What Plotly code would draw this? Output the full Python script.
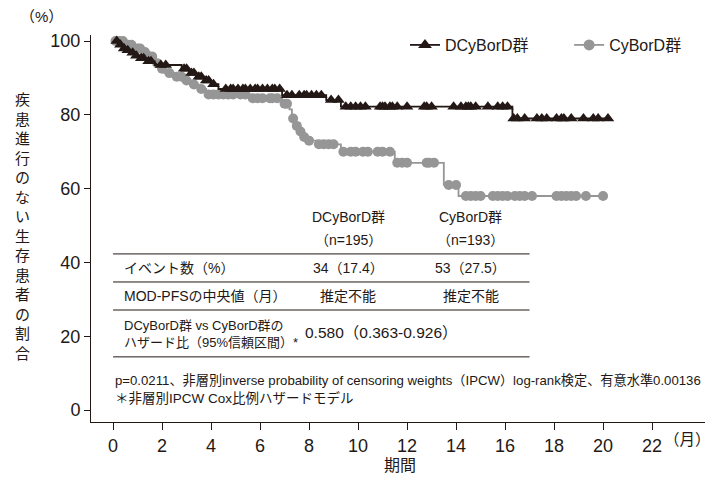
import numpy as np
import plotly.graph_objects as go

FONT = "'Liberation Sans', 'Noto Sans CJK JP', sans-serif"
INK = "#231815"
GRAY = "#969696"

# axis ticks
month_ticks = list(range(0, 23, 2))
pct_ticks = [0, 20, 40, 60, 80, 100]

# DCyBorD arm: step times (months) and % progression-free after each step
dcy_t = [0, 0.2, 0.35, 0.5, 0.7, 0.9, 1.1, 1.4, 1.7, 2.8, 3.1, 3.4, 3.7,
         4.0, 4.3, 6.9, 8.7, 9.3, 16.3]
dcy_s = [100, 99, 98, 97.5, 96.8, 96, 95.3, 94.5, 93.5, 92.5, 91.3, 90.3,
         89.3, 88.3, 87, 85.3, 84, 82.2, 79]
dcy_last = 20.2
dcy_cens = [0.15, 0.3, 0.45, 0.6, 0.8, 0.95, 1.15, 1.25, 1.45, 1.55, 1.95,
            2.15, 2.9, 3.0, 3.2, 3.3, 3.5, 3.6, 3.8, 3.9, 4.1, 4.6, 4.8, 4.9,
            5.1, 5.3, 5.4, 5.6, 5.8, 5.9, 6.1, 6.3, 6.5, 6.6, 6.8, 7.1, 7.3,
            7.6, 7.8, 7.9, 8.1, 8.3, 8.5, 8.9, 9.2, 9.5, 9.7, 9.9, 10.1, 10.3,
            10.9, 11.0, 11.1, 11.3, 11.4, 11.6, 12.0, 12.7, 12.8, 13.0, 13.9,
            14.2, 14.4, 14.5, 14.6, 14.8, 15.3, 15.7, 15.9, 16.1, 16.35, 16.5,
            16.8, 17.3, 17.5, 17.7, 18.1, 18.3, 18.4, 18.7, 19.2, 19.6, 19.8,
            20.2]

# CyBorD arm
cy_t = [0, 0.5, 0.9, 1.2, 1.5, 1.7, 1.9, 2.1, 2.5, 2.9, 3.2, 3.5, 3.8, 5.6,
        6.9, 7.2, 7.3, 7.4, 7.55, 7.7, 7.9, 8.3, 9.3, 11.5, 13.5, 14.1]
cy_s = [100, 99, 98, 97, 95.8, 94, 92.5, 91.3, 90.3, 89.3, 88.2, 87, 85.5,
        84.5, 83, 81.5, 79, 77, 75.5, 74, 73, 72, 70, 67, 61, 58]
cy_last = 20.0
cy_cens = [0.1, 0.25, 0.4, 0.6, 0.75, 1.0, 1.1, 1.3, 1.6, 1.8, 2.0, 2.3, 2.6,
           2.8, 3.0, 3.3, 3.6, 3.9, 4.1, 4.3, 4.5, 4.7, 4.9, 5.2, 5.4, 5.7,
           5.9, 6.1, 6.4, 6.5, 6.7, 7.0, 7.1, 7.35, 7.5, 7.65, 7.8, 8.0, 8.4,
           8.6, 8.8, 9.0, 9.4, 9.7, 9.9, 10.2, 10.4, 10.8, 11.0, 11.3, 11.6,
           11.8, 12.0, 12.8, 12.9, 13.1, 13.7, 14.0, 14.4, 14.6, 14.8, 15.0,
           15.5, 15.7, 15.9, 16.1, 16.4, 16.6, 16.8, 17.1, 18.1, 18.3, 18.5,
           18.7, 18.9, 19.3, 20.0]

# summary table
col_heads = [("DCyBorD群", "（n=195）"), ("CyBorD群", "（n=193）")]
events = ["34（17.4）", "53（27.5）"]
medians = ["推定不能", "推定不能"]
hr_text = "0.580（0.363-0.926）"
p_note = ("p=0.0211、非層別inverse probability of censoring weights（IPCW）"
          "log-rank検定、有意水準0.00136")
model_note = "＊非層別IPCW Cox比例ハザードモデル"


def step_xy(t, s, last):
    return list(t) + [last], list(s) + [s[-1]]


def censor_y(t, s, c):
    idx = np.searchsorted(np.asarray(t), np.asarray(c), side="right") - 1
    return [s[i] for i in idx]


fig = go.Figure()

groups = [
    (cy_t, cy_s, cy_last, cy_cens, GRAY, "circle", 10),
    (dcy_t, dcy_s, dcy_last, dcy_cens, INK, "triangle-up", 11),
]
for t, s, last, cens, color, sym, size in groups:
    x, y = step_xy(t, s, last)
    fig.add_trace(go.Scatter(x=x, y=y, mode="lines", line_shape="hv",
                             line=dict(color=color, width=1.8),
                             showlegend=False, hoverinfo="skip"))
    fig.add_trace(go.Scatter(x=cens, y=censor_y(t, s, cens), mode="markers",
                             marker=dict(symbol=sym, size=size, color=color,
                                         line=dict(width=0)),
                             showlegend=False, hoverinfo="skip"))

# legend samples (first name padded to space the two entries apart)
legend_items = [("DCyBorD群" + "&nbsp;" * 8, INK, "triangle-up", 12),
                ("CyBorD群", GRAY, "circle", 11)]
for name, color, sym, size in legend_items:
    fig.add_trace(go.Scatter(x=[None], y=[None], mode="lines+markers", name=name,
                             line=dict(color=color, width=1.8),
                             marker=dict(symbol=sym, size=size, color=color)))

# table rules
for yv in [42.3, 34.7, 27.1, 14.4]:
    fig.add_shape(type="line", x0=0, x1=17, y0=yv, y1=yv, xref="x", yref="y",
                  line=dict(color=INK, width=1))

ann = []
tfs = 14
col_x = [9.6, 14.6]
for cx, (h1, h2), ev, md in zip(col_x, col_heads, events, medians):
    ann += [dict(x=cx, y=52.3, text=h1), dict(x=cx, y=46.1, text=h2),
            dict(x=cx, y=38.5, text=ev), dict(x=cx, y=30.9, text=md)]
ann += [dict(x=0.37, y=38.5, text="イベント数（%）", xanchor="left"),
        dict(x=0.37, y=30.9, text="MOD-PFSの中央値（月）", xanchor="left"),
        dict(x=0.37, y=23.0, text="DCyBorD群 vs CyBorD群の", xanchor="left",
             size=13),
        dict(x=0.37, y=18.2, text="ハザード比（95%信頼区間）*",
             xanchor="left", size=13),
        dict(x=7.75, y=20.9, text=hr_text, xanchor="left", size=15.5),
        dict(x=0.0, y=8.1, text=p_note, xanchor="left", size=13.2),
        dict(x=0.0, y=3.3, text=model_note, xanchor="left", size=13.5)]

annotations = []
for a in ann:
    size = a.pop("size", tfs)
    a.setdefault("xanchor", "center")
    annotations.append(dict(xref="x", yref="y", showarrow=False, yanchor="middle",
                            font=dict(size=size, color=INK, family=FONT), **a))

# axis captions, placed in pixels and converted to paper fractions below
W, H = 712, 481
L, R, T, B = 91, 7, 35, 59
pw, ph = W - L - R, H - T - B
captions = [
    (22, 226, "<br>".join("疾患進行のない生存患者の割合"), 15),
    (41, 17, "（%）", 15),
    (400, 466, "期間", 16),
    (687, 439, "（月）", 15.5),
]
for px, py, text, size in captions:
    annotations.append(dict(xref="paper", yref="paper",
                            x=(px - L) / pw, y=(H - py - B) / ph,
                            xanchor="center", yanchor="middle", showarrow=False,
                            text=text, font=dict(size=size, color=INK, family=FONT)))

fig.update_layout(
    width=W, height=H,
    margin=dict(l=L, r=R, t=T, b=B, pad=0),
    paper_bgcolor="white", plot_bgcolor="white",
    font=dict(family=FONT, color=INK, size=16),
    annotations=annotations,
    legend=dict(orientation="h", x=(405 - L) / pw, y=1 - (45 - T) / ph,
                xanchor="left", yanchor="middle", font=dict(size=16),
                itemwidth=30, bgcolor="rgba(0,0,0,0)"),
    xaxis=dict(range=[-0.9, 24.16], tickvals=month_ticks, showgrid=False,
               zeroline=False, showline=True, linecolor=INK, linewidth=1,
               ticks="outside", ticklen=7, tickcolor=INK,
               tickfont=dict(size=18, color=INK)),
    yaxis=dict(range=[-3.25, 101.63], tickvals=pct_ticks, showgrid=False,
               zeroline=False, showline=True, linecolor=INK, linewidth=1,
               ticks="outside", ticklen=6, tickcolor=INK,
               tickfont=dict(size=18, color=INK)),
)

fig.write_html("out.html")
